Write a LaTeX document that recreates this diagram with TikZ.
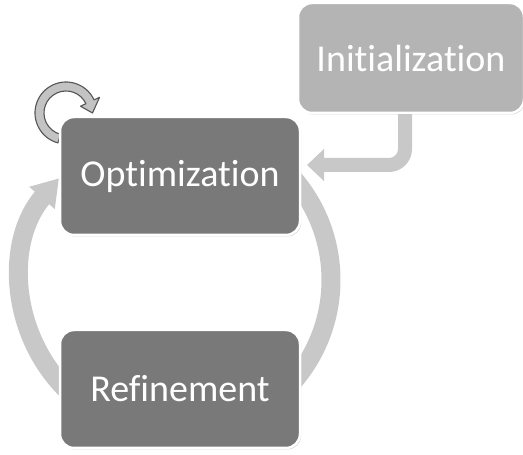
\documentclass[tikz,border=0pt]{standalone}
\usepackage{fontspec}
\setmainfont{Carlito}[Ligatures={NoCommon}]
\usetikzlibrary{arrows.meta,shadows,calc}
\definecolor{ringgray}{HTML}{C8C8C8}
\definecolor{initgray}{HTML}{B4B4B4}
\definecolor{darkbox}{HTML}{797979}
\definecolor{loopfill}{HTML}{C3C3C3}
\definecolor{loopline}{HTML}{555555}
\begin{document}
\begin{tikzpicture}[x=1pt,y=1pt,
  stagebox/.style={rounded corners=14pt, draw=white, line width=2.5pt,
    minimum width=240pt, minimum height=118pt, inner sep=0pt,
    font=\fontsize{38}{46}\selectfont, text=white,
    drop shadow={shadow xshift=1.2pt,shadow yshift=-1.5pt,opacity=0.35}},
  ringline/.style={draw=ringgray, line width=19pt},
  feedline/.style={draw=ringgray, line width=14pt, rounded corners=16pt},
  loopshape/.style={fill=loopfill, draw=loopline, line width=1.1pt, line join=round}
]
\useasboundingbox (0,0) rectangle (523,455);
% ring
\coordinate (rc) at (176,175);
\draw[ringline] ($(rc)+(45:155)$) arc[start angle=45, end angle=-45, radius=155];
\draw[ringline, -{Triangle[width=32pt,length=26pt]}] ($(rc)+(226:155)$) arc[start angle=226, end angle=139, radius=155];
% feed arrow from Initialization
\coordinate (initc) at (411,397);
\coordinate (initout) at (405,342);
\coordinate (inittip) at (307,290);
\draw[feedline, -{Triangle[width=31pt,length=17pt]}] (initout) |- (inittip);
% self loop
\coordinate (lc) at (66,342);
\path[loopshape] ($(lc)+(255:31)$) arc[start angle=255,end angle=25,radius=31]
  -- ($(lc)+(25:37)$) -- ($(lc)+(0:26.5)$) -- ($(lc)+(25:16)$) -- ($(lc)+(25:22)$)
  arc[start angle=25,end angle=255,radius=22] -- cycle;
\node[stagebox, fill=initgray, minimum width=226pt, minimum height=110pt] (init) at (initc) {Initialization};
\node[stagebox, fill=darkbox] (opt) at (180,279) {Optimization};
\node[stagebox, fill=darkbox] (ref) at (180,66) {Refinement};
\end{tikzpicture}
\end{document}
